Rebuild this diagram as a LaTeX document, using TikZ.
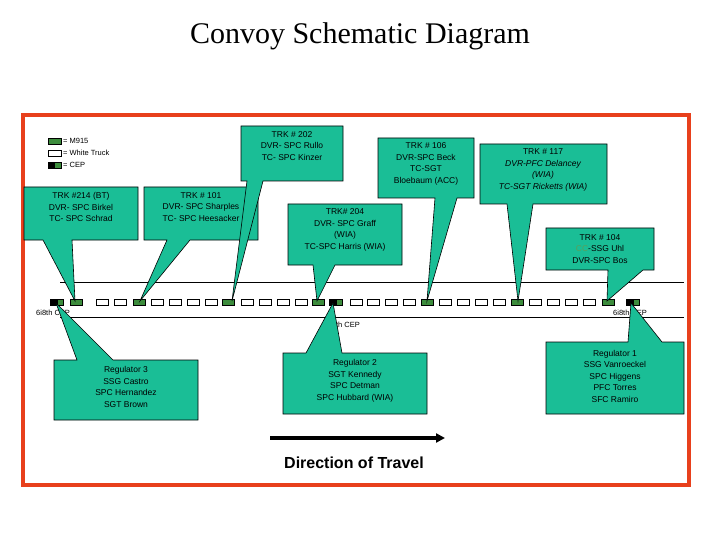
\documentclass[tikz,border=0pt]{standalone}
\usepackage{fontspec}
\usetikzlibrary{arrows.meta}
\setmainfont{Liberation Sans}
\newfontfamily\timesf{Liberation Serif}
\definecolor{teal1}{RGB}{26,190,150}
\definecolor{trk}{RGB}{60,140,60}
\definecolor{redb}{RGB}{232,64,28}
\definecolor{ccg}{RGB}{90,160,90}
\newcommand{\calloutB}[8]{\fill[teal1,draw=black,line width=0.6pt] (#1,#2)--(#3,#2)--(#3,#4)--(#6,#4)--(#7,#8)--(#5,#4)--(#1,#4)--cycle;}
\newcommand{\calloutT}[8]{\fill[teal1,draw=black,line width=0.6pt] (#1,#2)--(#5,#2)--(#7,#8)--(#6,#2)--(#3,#2)--(#3,#4)--(#1,#4)--cycle;}
\begin{document}
\begin{tikzpicture}[x=1pt,y=-1pt,
  txt/.style={font=\fontsize{8.5}{11.5}\selectfont,align=center,inner sep=0pt},
  wt/.style={draw=black,fill=white,line width=0.5pt},
  gt/.style={draw=black,fill=trk,line width=0.5pt},
  cl/.style={font=\fontsize{7.5}{9}\selectfont,inner sep=0pt,anchor=west}]
\useasboundingbox (0,0) rectangle (720,540);
\node (title) at (360,36) {\timesf\fontsize{30}{34}\selectfont Convoy Schematic Diagram};
\draw[redb,line width=4.5pt] (23,115) rectangle (689,485);
% legend
\draw[gt] (48,138) rectangle (61,144); \node[cl] (l1) at (63,141) {= M915};
\draw[wt] (48,150) rectangle (61,156); \node[cl] (l2) at (63,153) {= White Truck};
\fill[black] (48,162) rectangle (54,168); \draw[gt] (54,162) rectangle (61,168); \draw (48,162) rectangle (61,168);
\node[cl] (l3) at (63,165) {= CEP};
% road lines
\draw[line width=0.6pt] (60,282) -- (684,282);
\draw[line width=0.6pt] (60,317) -- (684,317);
% vehicles
\foreach \x in {96,114,151,169,187,205,241,259,277,295,350,367,385,403,439,457,475,493,529,547,565,583}
  \draw[wt] (\x,299) rectangle ++(12,6);
\foreach \x in {70,133,222,312,421,511,602}
  \draw[gt] (\x,299) rectangle ++(12,6);
\foreach \x in {50,329,626}{
  \fill[black] (\x,299) rectangle ++(7,6); \draw[gt] (\x+7,299) rectangle ++(6,6); \draw (\x,299) rectangle ++(13,6);}
% CEP labels
\node[cl] (c1) at (36,313) {6i8th CEP};
\node[cl] (c2) at (330,325) {i8th CEP};
\node[cl] (c3) at (613,313) {6i8th CEP};
% top callouts
\calloutB{24}{187}{138}{240}{43}{72}{75}{301}
\node[txt] (t214) at (81,207) {TRK \#214 (BT)\\DVR- SPC Birkel\\TC- SPC Schrad};
\calloutB{144}{187}{258}{240}{167}{190}{140}{301}
\node[txt] (t101) at (201,207) {TRK \# 101\\DVR- SPC Sharples\\TC- SPC Heesacker};
\calloutB{241}{126}{343}{181}{247}{263}{232}{301}
\node[txt] (t202) at (292,146) {TRK \# 202\\DVR- SPC Rullo\\TC- SPC Kinzer};
\calloutB{288}{204}{402}{265}{313}{335}{317}{301}
\node[txt] (t204) at (345,230) {TRK\# 204\\DVR- SPC Graff\\(WIA)\\TC-SPC Harris (WIA)};
\calloutB{378}{138}{474}{198}{435}{457}{427}{301}
\node[txt] (t106) at (426,164) {TRK \# 106\\DVR-SPC Beck\\TC-SGT\\Bloebaum (ACC)};
\calloutB{480}{144}{607}{204}{507}{533}{518}{301}
\node[txt] (t117) at (543,170) {TRK \# 117\\\itshape DVR-PFC Delancey\\\itshape (WIA)\\\itshape TC-SGT Ricketts (WIA)};
\calloutB{546}{228}{654}{270}{608}{643}{607}{301}
\node[txt] (t104) at (600,249) {TRK \# 104\\\textcolor{ccg}{CC}-SSG Uhl\\DVR-SPC Bos};
% bottom callouts
\calloutT{54}{360}{198}{420}{77}{113}{56}{303}
\node[txt] (r3) at (126,387) {Regulator 3\\SSG Castro\\SPC Hernandez\\SGT Brown};
\calloutT{283}{353}{427}{414}{306}{342}{333}{303}
\node[txt] (r2) at (355,381) {Regulator 2\\SGT Kennedy\\SPC Detman\\SPC Hubbard (WIA)};
\calloutT{546}{342}{684}{414}{628}{662}{631}{303}
\node[txt] (r1) at (615,376) {Regulator 1\\SSG Vanroeckel\\SPC Higgens\\PFC Torres\\SFC Ramiro};
% direction
\coordinate (da) at (270,438); \coordinate (db) at (445,438);
\draw[line width=3.5pt,-{Triangle[length=9pt,width=9pt]}] (da) -- (db);
\node (dir) at (354,463) {\bfseries\fontsize{16}{19}\selectfont Direction of Travel};
\end{tikzpicture}
\end{document}
